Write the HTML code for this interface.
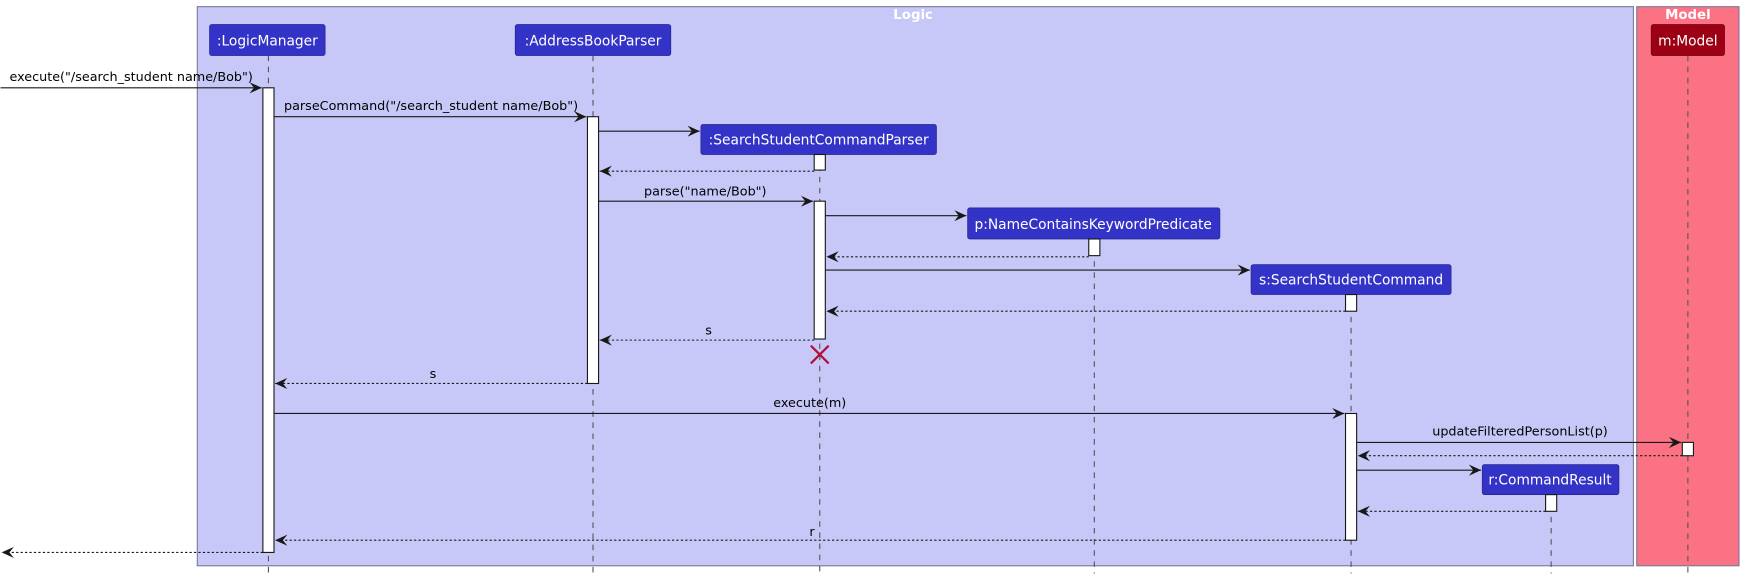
<!DOCTYPE html>
<html><head><meta charset="utf-8"><style>
html,body{margin:0;padding:0;background:#fff;width:1744px;height:578px;overflow:hidden}
text{font-family:"DejaVu Sans","Liberation Sans",sans-serif;font-size:11.5px;fill:#000}
.w{fill:#fff;font-size:12.4px}
.ll{stroke:#555;stroke-dasharray:5,5;stroke-width:1}
.m{stroke:#181818;stroke-width:1}
.d{stroke:#181818;stroke-width:1;stroke-dasharray:2,2}
.act{fill:#fff;stroke:#181818;stroke-width:1}
.box{fill:#3333c8;stroke:#23238a;stroke-width:0.6}
</style></head><body>
<svg width="1744" height="578" viewBox="0 0 1568 520" xmlns="http://www.w3.org/2000/svg">
<defs>
<marker id="a" markerWidth="12" markerHeight="10" refX="11" refY="5" orient="auto" markerUnits="userSpaceOnUse"><path d="M0,0 L11,5 L0,10 L4,5 Z" fill="#181818"/></marker>
</defs>
<rect x="177" y="6" width="1292" height="503" fill="#c8c8f8" stroke="#7a7a9a"/>
<text x="821" y="17" text-anchor="middle" style="font-weight:bold;fill:#fff;font-size:12px">Logic</text>
<rect x="1472" y="6" width="92" height="503" fill="#fb7285" stroke="#7a7a9a"/>
<text x="1518" y="17" text-anchor="middle" style="font-weight:bold;fill:#fff;font-size:12px">Model</text>

<line class="ll" x1="241" y1="50" x2="241" y2="516"/>
<line class="ll" x1="533" y1="50" x2="533" y2="516"/>
<line class="ll" x1="737" y1="139" x2="737" y2="516"/>
<line class="ll" x1="984" y1="215" x2="984" y2="516"/>
<line class="ll" x1="1215" y1="265" x2="1215" y2="516"/>
<line class="ll" x1="1395" y1="445" x2="1395" y2="516"/>
<line class="ll" x1="1518" y1="50" x2="1518" y2="516"/>

<rect class="box" x="188" y="22" width="104" height="28" rx="2"/><text class="w" x="240" y="41" text-anchor="middle">:LogicManager</text>
<rect class="box" x="463" y="22" width="140" height="28" rx="2"/><text class="w" x="533" y="41" text-anchor="middle">:AddressBookParser</text>
<rect class="box" x="630" y="112" width="212" height="27" rx="2"/><text class="w" x="736" y="130" text-anchor="middle">:SearchStudentCommandParser</text>
<rect class="box" x="870" y="187" width="227" height="28" rx="2"/><text class="w" x="983" y="206" text-anchor="middle">p:NameContainsKeywordPredicate</text>
<rect class="box" x="1125" y="238" width="180" height="27" rx="2"/><text class="w" x="1215" y="256" text-anchor="middle">s:SearchStudentCommand</text>
<rect class="box" x="1333" y="418" width="123" height="27" rx="2"/><text class="w" x="1394" y="436" text-anchor="middle">r:CommandResult</text>
<rect x="1485" y="22" width="66" height="28" rx="2" fill="#9b0015" stroke="#6a0010" stroke-width="0.6"/><text class="w" x="1518" y="41" text-anchor="middle">m:Model</text>

<rect class="act" x="236" y="79" width="10" height="418"/>
<rect class="act" x="528" y="105" width="10" height="240"/>
<rect class="act" x="732" y="139" width="10" height="14"/>
<rect class="act" x="732" y="181" width="10" height="124"/>
<rect class="act" x="979" y="215" width="10" height="15"/>
<rect class="act" x="1210" y="265" width="10" height="15"/>
<rect class="act" x="1210" y="372" width="10" height="114"/>
<rect class="act" x="1390" y="445" width="10" height="15"/>
<rect class="act" x="1513" y="398" width="10" height="12"/>

<path d="M729,311 L745,327 M745,311 L729,327" stroke="#b0103a" stroke-width="2"/>

<line class="m" x1="0" y1="79" x2="235" y2="79" marker-end="url(#a)"/><text x="8" y="73">execute("/search_student name/Bob")</text>
<line class="m" x1="246" y1="105" x2="527" y2="105" marker-end="url(#a)"/><text x="255" y="99">parseCommand("/search_student name/Bob")</text>
<line class="m" x1="538" y1="118" x2="629" y2="118" marker-end="url(#a)"/>
<line class="d" x1="732" y1="154" x2="539" y2="154" marker-end="url(#a)"/>
<line class="m" x1="538" y1="181" x2="731" y2="181" marker-end="url(#a)"/><text x="634" y="176" text-anchor="middle">parse("name/Bob")</text>
<line class="m" x1="742" y1="194" x2="869" y2="194" marker-end="url(#a)"/>
<line class="d" x1="979" y1="231" x2="743" y2="231" marker-end="url(#a)"/>
<line class="m" x1="742" y1="243" x2="1124" y2="243" marker-end="url(#a)"/>
<line class="d" x1="1210" y1="280" x2="743" y2="280" marker-end="url(#a)"/>
<line class="d" x1="732" y1="306" x2="539" y2="306" marker-end="url(#a)"/><text x="637" y="301" text-anchor="middle">s</text>
<line class="d" x1="528" y1="345" x2="247" y2="345" marker-end="url(#a)"/><text x="389" y="340" text-anchor="middle">s</text>
<line class="m" x1="246" y1="372" x2="1209" y2="372" marker-end="url(#a)"/><text x="728" y="366" text-anchor="middle">execute(m)</text>
<line class="m" x1="1220" y1="398" x2="1512" y2="398" marker-end="url(#a)"/><text x="1367" y="392" text-anchor="middle">updateFilteredPersonList(p)</text>
<line class="d" x1="1513" y1="410" x2="1221" y2="410" marker-end="url(#a)"/>
<line class="m" x1="1220" y1="423" x2="1332" y2="423" marker-end="url(#a)"/>
<line class="d" x1="1390" y1="460" x2="1221" y2="460" marker-end="url(#a)"/>
<line class="d" x1="1210" y1="486" x2="247" y2="486" marker-end="url(#a)"/><text x="730" y="482" text-anchor="middle">r</text>
<line class="d" x1="236" y1="497" x2="1" y2="497" marker-end="url(#a)"/>
</svg>
</body></html>
